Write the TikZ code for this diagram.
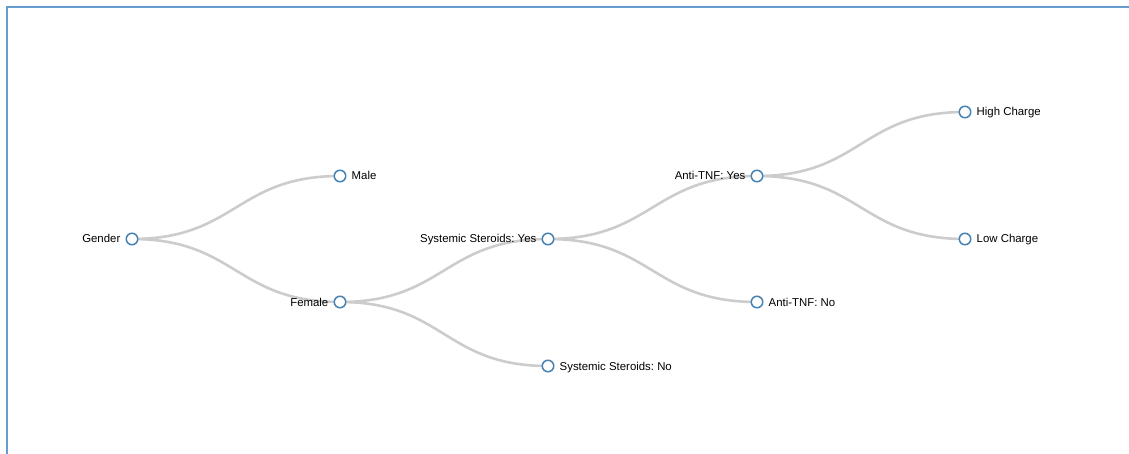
\documentclass[tikz,border=0pt]{standalone}
\usepackage{fontspec}
\setmainfont{Liberation Sans}
\usetikzlibrary{calc,backgrounds}
\definecolor{frameblue}{RGB}{102,155,206}
\definecolor{nodeblue}{RGB}{70,130,180}
\definecolor{linkgray}{RGB}{204,204,204}
\tikzset{
  tnode/.style={circle,draw=nodeblue,fill=white,line width=1.5pt,minimum size=11.5pt,inner sep=0pt},
  lbl/.style={font=\fontsize{11.4}{13}\selectfont\frenchspacing,inner sep=0pt,text=black,text height=8pt,text depth=0pt},
  llbl/.style={label={[lbl,label distance=5pt]left:#1}},
  rlbl/.style={label={[lbl,label distance=5pt]right:#1}},
  link/.style={draw=linkgray,line width=2.6pt}
}
\newcommand{\dlink}[2]{\draw[link] (#1.center) .. controls ($(#1.center)!0.5!(#1.center-|#2.center)$) and ($(#2.center)!0.5!(#2.center-|#1.center)$) .. (#2.center);}
\begin{document}
\begin{tikzpicture}[x=1pt,y=-1pt]
\useasboundingbox (0,0) rectangle (1129,454);
\draw[frameblue,line width=2pt] (7,455) -- (7,7) -- (1130,7);
\node[tnode,llbl=Gender] (g) at (132,239) {};
\node[tnode,rlbl=Male] (m) at (340,176) {};
\node[tnode,llbl=Female] (f) at (340,302) {};
\node[tnode,llbl={Systemic Steroids: Yes}] (sy) at (548,239) {};
\node[tnode,rlbl={Systemic Steroids: No}] (sn) at (548,366) {};
\node[tnode,llbl={Anti-TNF: Yes}] (ay) at (757,176) {};
\node[tnode,rlbl={Anti-TNF: No}] (an) at (757,302) {};
\node[tnode,rlbl={High Charge}] (hc) at (965,112) {};
\node[tnode,rlbl={Low Charge}] (lc) at (965,239) {};
\begin{scope}[on background layer]
\dlink{g}{m}
\dlink{g}{f}
\dlink{f}{sy}
\dlink{f}{sn}
\dlink{sy}{ay}
\dlink{sy}{an}
\dlink{ay}{hc}
\dlink{ay}{lc}
\end{scope}
\end{tikzpicture}
\end{document}
